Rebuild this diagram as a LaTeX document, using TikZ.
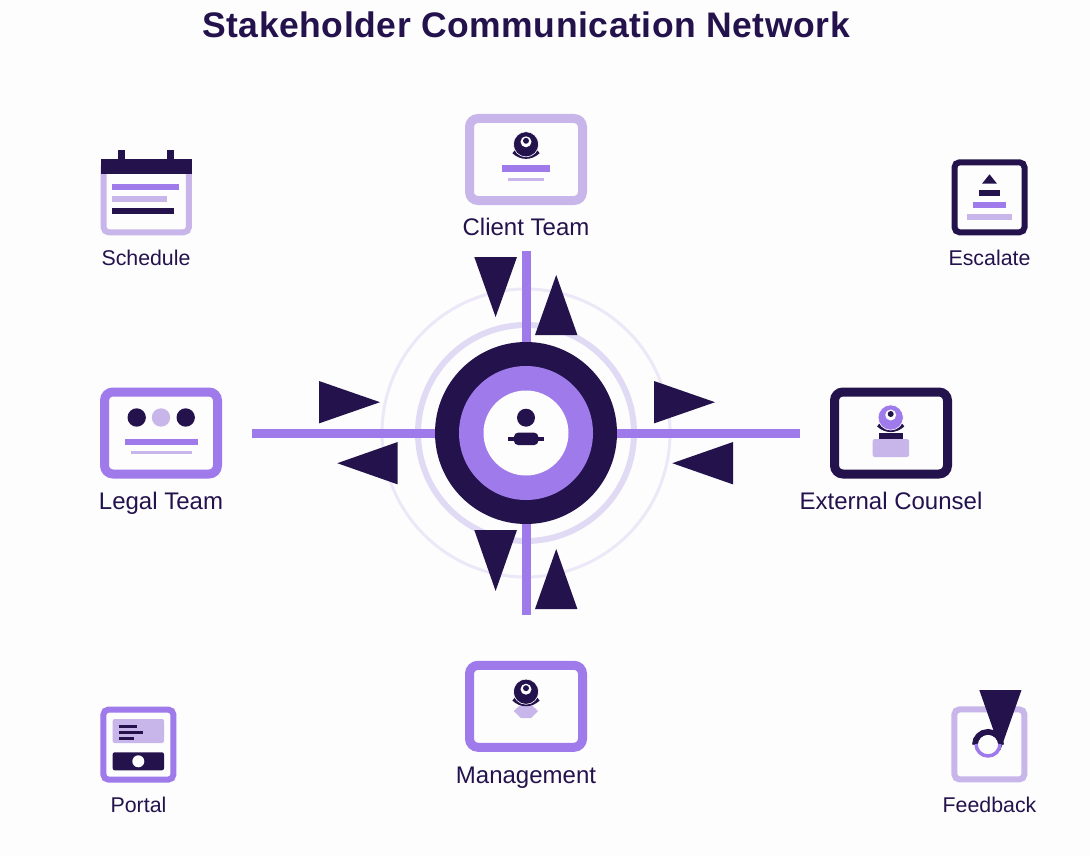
\documentclass[tikz,border=0pt]{standalone}
\usepackage{fontspec}
\setmainfont{Liberation Sans}
\newfontfamily\titlefont[LetterSpace=1.55]{Liberation Sans}
\definecolor{ink}{HTML}{24124D}
\definecolor{vio}{HTML}{9F7AEA}
\definecolor{lav}{HTML}{C8B6EB}
\definecolor{bgc}{HTML}{FDFDFD}
\definecolor{ringa}{HTML}{E0DAF4}
\definecolor{ringb}{HTML}{ECE8F8}
\newcommand{\iconbar}[5]{\fill[#1] (#2,#3) rectangle (#4,#5);}
\newcommand{\headtri}[6]{\fill[ink] (#1,#2) -- (#3,#4) -- (#5,#6) -- cycle;}
% webcam: colour, cx, cy (circle centre)
\newcommand{\webcam}[3]{%
  \draw[ink,line width=3.6] (#2-12.5,#3+7.5) .. controls (#2-5,#3+14.5) and (#2+5,#3+14.5) .. (#2+12.5,#3+7.5);
  \draw[white,line width=0.6,fill=#1] (#2,#3) circle (12.6);
  \fill[white] (#2,#3-2.5) circle (5.5);
  \fill[ink] (#2,#3-3.5) circle (3);
}
\tikzset{
  x=1pt,y=-1pt,
  bigcard/.style={draw=#1,line width=9pt,fill=bgc,rounded corners=8.5pt,minimum width=113pt,minimum height=82pt,inner sep=0pt,outer sep=0pt},
  smallcard/.style={draw=#1,line width=6pt,fill=bgc,rounded corners=5pt,minimum width=70pt,minimum height=70pt,inner sep=0pt,outer sep=0pt},
  biglabel/.style={text=ink,font=\fontsize{24}{24}\selectfont,anchor=base,inner sep=0pt},
  smalllabel/.style={text=ink,font=\fontsize{21.33}{21.33}\selectfont,anchor=base,inner sep=0pt},
  titletext/.style={text=ink,font=\titlefont\fontsize{35.5}{35.5}\selectfont\bfseries,anchor=base,inner sep=0pt},
  conn/.style={draw=vio,line width=9pt},
  disc/.style={circle,inner sep=0pt,outer sep=0pt,minimum size=#1},
}
\begin{document}
\begin{tikzpicture}
\useasboundingbox (0,0) rectangle (1090,856);
\fill[bgc] (0,0) rectangle (1090,856);
\node[titletext] (title) at (526,37.3) {Stakeholder Communication Network};

% rings
\draw[ringb,line width=3pt] (526,433) circle (144);
\draw[ringa,line width=6pt] (526,433) circle (108);

% hub
\node[disc=182pt,fill=ink] (hub) at (526,433) {};
\coordinate (endT) at (526,251);
\coordinate (endB) at (526,615);
\coordinate (endL) at (252,433);
\coordinate (endR) at (800,433);
\draw[conn] (hub.north) -- (endT);
\draw[conn] (hub.south) -- (endB);
\draw[conn] (hub.west) -- (endL);
\draw[conn] (hub.east) -- (endR);
\node[disc=134pt,fill=vio] (hubmid) at (526,433) {};
\node[disc=85pt,fill=bgc] (hubin) at (526,433) {};
\fill[ink] (526,417.7) circle (9);
\fill[ink] (507.7,437.3) rectangle (544.3,440.7);
\fill[ink,rounded corners=4pt] (514,432.7) rectangle (538.3,445);

% connector arrowheads
\headtri{474.3}{257}{517}{257}{495.6}{317}
\headtri{535}{335}{577.4}{335}{556.2}{275}
\headtri{319}{381}{319}{423.4}{380}{402.2}
\headtri{397.7}{442}{397.7}{484.4}{337.3}{463.2}
\headtri{654}{381}{654}{423.4}{715}{402.2}
\headtri{733}{442}{733}{484.4}{672.3}{463.2}
\headtri{474.3}{530}{517}{530}{495.6}{591}
\headtri{535}{609}{577.4}{609}{556.2}{549}

% Client Team
\node[bigcard=lav] (client) at (526,159.5) {};
\webcam{ink}{526}{144.3}
\iconbar{vio}{501.7}{165.3}{550.3}{171.7}
\iconbar{lav}{508}{177.7}{544.3}{180.7}
\node[biglabel] (clientl) at (526,235) {Client Team};

% Legal Team
\node[bigcard=vio] (legal) at (161,433) {};
\fill[ink] (136.7,417.5) circle (9.2);
\fill[lav] (161,417.5) circle (9.2);
\fill[ink] (185.7,417.5) circle (9.2);
\iconbar{vio}{124.7}{439}{197.7}{445.3}
\iconbar{lav}{131}{451.3}{192}{454.3}
\node[biglabel] (legall) at (161,509) {Legal Team};

% External Counsel
\node[bigcard=ink] (ext) at (891,433) {};
\webcam{vio}{890.7}{417.5}
\iconbar{ink}{878.7}{433.3}{903}{439.5}
\fill[lav,rounded corners=2pt] (872.7,439) rectangle (909,457);
\node[biglabel] (extl) at (891,509) {External Counsel};

% Management
\node[bigcard=vio] (mgmt) at (526,706.3) {};
\fill[lav] (513.7,711) -- (521,704.5) -- (531,704.5) -- (538,711) -- (531,718) -- (521,718) -- cycle;
\webcam{ink}{526}{691.7}
\node[biglabel] (mgmtl) at (526,783) {Management};

% Schedule
\node[smallcard=lav,minimum width=85.2pt,minimum height=70pt] (sched) at (146.2,197.3) {};
\fill[ink] (118.3,150) rectangle (124.7,162);
\fill[ink] (167.3,150) rectangle (173.7,162);
\fill[ink] (100.5,159.3) rectangle (191.8,174.5);
\iconbar{vio}{112.3}{183.7}{179.3}{189.7}
\iconbar{lav}{112.3}{196}{167.3}{202}
\iconbar{ink}{112.3}{208}{173.7}{214}
\node[smalllabel] (schedl) at (146,265.7) {Schedule};

% Escalate
\node[smallcard=ink] (esc) at (989.5,197.3) {};
\fill[ink] (982,183.7) -- (997,183.7) -- (989.5,174.3) -- cycle;
\iconbar{ink}{979}{189.7}{1000.3}{195.7}
\iconbar{vio}{972.7}{202}{1006.3}{208}
\iconbar{lav}{966.7}{214}{1012.3}{220}
\node[smalllabel] (escl) at (989.5,265.7) {Escalate};

% Portal
\node[smallcard=vio] (portal) at (138.4,744.6) {};
\fill[lav,rounded corners=2pt] (112.7,719) rectangle (164,743);
\iconbar{ink}{118.7}{725}{137}{728}
\iconbar{ink}{118.7}{731}{143}{734}
\iconbar{ink}{118.7}{737}{134}{740}
\fill[ink,rounded corners=2pt] (112.7,752.3) rectangle (164,770.3);
\fill[bgc] (138.3,761.3) circle (6);
\node[smalllabel] (portall) at (138.5,812.7) {Portal};

% Feedback
\node[smallcard=lav] (feed) at (989.4,744.4) {};
\draw[ink,line width=6pt] (975,745) arc[start angle=180,end angle=360,radius=13];
\fill[ink] (979.3,690) -- (1021.5,690) -- (1000.4,750) -- cycle;
\fill[bgc] (988,745) circle (10);
\draw[vio,line width=3.5pt] (976,744) arc[start angle=180,end angle=0,radius=12];
\node[smalllabel] (feedl) at (989.5,812.7) {Feedback};
\end{tikzpicture}
\end{document}
